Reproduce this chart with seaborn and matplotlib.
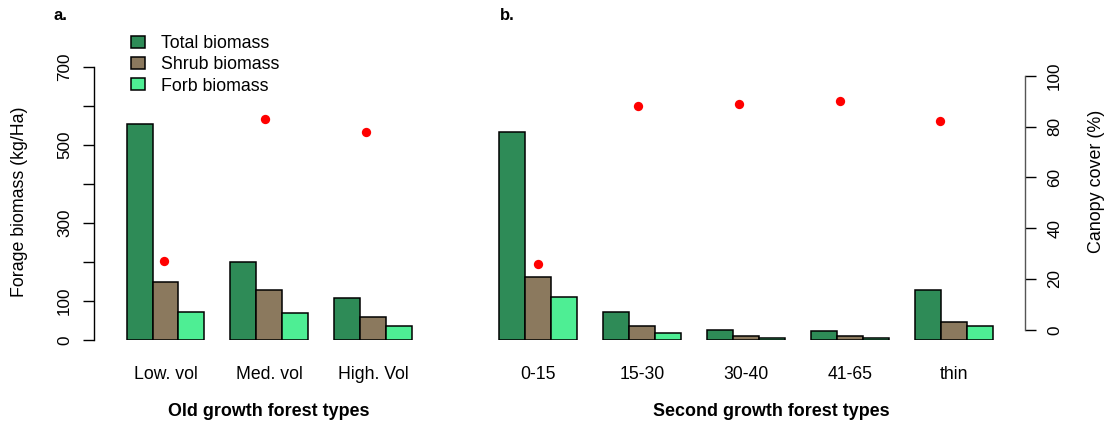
import matplotlib
matplotlib.use("Agg")
import matplotlib.pyplot as plt
from matplotlib.patches import Patch
import numpy as np
import pandas as pd
import seaborn as sns

# ---- data -------------------------------------------------------------
components = ["Total biomass", "Shrub biomass", "Forb biomass"]
colors = ["#2E8B57", "#8B795E", "#4EEE94"]

old_types = ["Low. vol", "Med. vol", "High. Vol"]
old_total = [552, 200, 107]
old_shrub = [148, 127, 60]
old_forb = [72, 68, 37]
old_canopy = [27, 83, 78]

second_types = ["0-15", "15-30", "30-40", "41-65", "thin"]
second_total = [532, 72, 25, 24, 128]
second_shrub = [161, 37, 10, 10, 46]
second_forb = [111, 17, 6, 6, 35]
second_canopy = [26, 88, 89, 90, 82]

biomass_ticks = [0, 100, 200, 300, 400, 500, 600, 700]
biomass_labels = ["0", "100", "", "300", "", "500", "", "700"]
canopy_ticks = [0, 20, 40, 60, 80, 100]


def long_table(types, total, shrub, forb):
    rows = []
    for comp, vals in zip(components, [total, shrub, forb]):
        for t, v in zip(types, vals):
            rows.append({"type": t, "component": comp, "biomass": v})
    return pd.DataFrame(rows)


old_df = long_table(old_types, old_total, old_shrub, old_forb)
second_df = long_table(second_types, second_total, second_shrub, second_forb)
old_canopy_df = pd.DataFrame({"pos": np.arange(len(old_types)), "canopy": old_canopy})
second_canopy_df = pd.DataFrame({"pos": np.arange(len(second_types)), "canopy": second_canopy})

# ---- style ------------------------------------------------------------
sns.set_theme(style="white")
plt.rcParams["font.family"] = ["Liberation Sans", "DejaVu Sans"]
plt.rcParams["axes.linewidth"] = 1.0
for key in ["text.color", "axes.labelcolor", "xtick.color", "ytick.color"]:
    plt.rcParams[key] = "black"

W, H = 1107, 426
fig = plt.figure(figsize=(W / 100, H / 100), dpi=100)


def rect(left, right, top, bottom):
    return [left / W, 1 - bottom / H, (right - left) / W, (bottom - top) / H]


TOP, BOTTOM = 65.5, 340
ax_a = fig.add_axes(rect(94.3, 443.7, TOP, BOTTOM))
ax_b = fig.add_axes(rect(480, 1025, TOP, BOTTOM))
ov_a = fig.add_axes(rect(94.3, 443.7, TOP, BOTTOM))
ov_b = fig.add_axes(rect(480, 1025, TOP, BOTTOM))

tick_fs = 12.3
cat_fs = 12.7
title_fs = 12.9


def draw_bars(ax, df, order, xlim):
    sns.barplot(data=df, x="type", y="biomass", hue="component", order=order,
                hue_order=components, palette=colors, width=0.75,
                edgecolor="black", linewidth=1.1, saturation=1, ax=ax,
                legend=False, errorbar=None)
    ax.set_xlim(*xlim)
    ax.set_ylim(0, 703)
    ax.set_xlabel("")
    ax.set_ylabel("")
    ax.patch.set_alpha(0)
    for s in ["top", "right", "bottom"]:
        ax.spines[s].set_visible(False)
    ax.tick_params(axis="x", length=0, pad=19, labelsize=cat_fs, colors="black")


draw_bars(ax_a, old_df, old_types, (-0.6856, 2.679))
draw_bars(ax_b, second_df, second_types, (-0.561, 4.684))

# left biomass axis
ax_a.spines["left"].set_bounds(0, 700)
ax_a.spines["left"].set_color("black")
ax_a.set_yticks(biomass_ticks)
ax_a.set_yticklabels(biomass_labels, rotation=90, va="center")
ax_a.tick_params(axis="y", length=8, width=1.0, direction="out", pad=8,
                 labelsize=tick_fs, colors="black", left=True)
ax_b.spines["left"].set_visible(False)
ax_b.set_yticks([])


def draw_canopy(ov, df, xlim, show_axis):
    sns.scatterplot(data=df, x="pos", y="canopy", color="#FF0000", s=45,
                    linewidth=0, ax=ov, zorder=5)
    ov.set_xlim(*xlim)
    ov.set_ylim(-4, 104)
    ov.patch.set_alpha(0)
    ov.set_xlabel("")
    ov.set_ylabel("")
    ov.set_xticks([])
    for s in ["top", "left", "bottom"]:
        ov.spines[s].set_visible(False)
    if show_axis:
        ov.yaxis.tick_right()
        ov.spines["right"].set_bounds(0, 100)
        ov.spines["right"].set_color("#555555")
        ov.set_yticks(canopy_ticks)
        ov.set_yticklabels([str(t) for t in canopy_ticks], rotation=90, va="center")
        ov.tick_params(axis="y", length=8, width=1.0, direction="out", pad=8,
                       labelsize=tick_fs, colors="black", right=True, left=False)
    else:
        ov.spines["right"].set_visible(False)
        ov.set_yticks([])


draw_canopy(ov_a, old_canopy_df, (-0.691, 2.773), False)
draw_canopy(ov_b, second_canopy_df, (-0.573, 4.842), True)

# axis titles and panel letters
fig.text(20 / W, 1 - 202 / H, "Forage biomass (kg/Ha)", rotation=90,
         ha="center", va="center", fontsize=12.8)
fig.text(1096.7 / W, 1 - 181 / H, "Canopy cover (%)", rotation=90,
         ha="center", va="center", fontsize=12.9)
fig.text(269 / W, 1 - 411.7 / H, "Old growth forest types", ha="center",
         va="center", fontsize=title_fs, fontweight="bold")
fig.text(771.7 / W, 1 - 411.7 / H, "Second growth forest types", ha="center",
         va="center", fontsize=title_fs, fontweight="bold")
fig.text(54 / W, 1 - 15 / H, "a.", ha="left", va="center", fontsize=12,
         fontweight="bold")
fig.text(500 / W, 1 - 15 / H, "b.", ha="left", va="center", fontsize=12,
         fontweight="bold")

handles = [Patch(facecolor=c, edgecolor="black", linewidth=1.1) for c in colors]
fig.legend(handles, components, loc="upper left",
           bbox_to_anchor=(131 / W, 1 - 35 / H), frameon=False, fontsize=12.8,
           handlelength=0.8, handleheight=0.69, handletextpad=0.9,
           labelspacing=0.24, borderpad=0, borderaxespad=0)

fig.savefig("out.png", dpi=100)
